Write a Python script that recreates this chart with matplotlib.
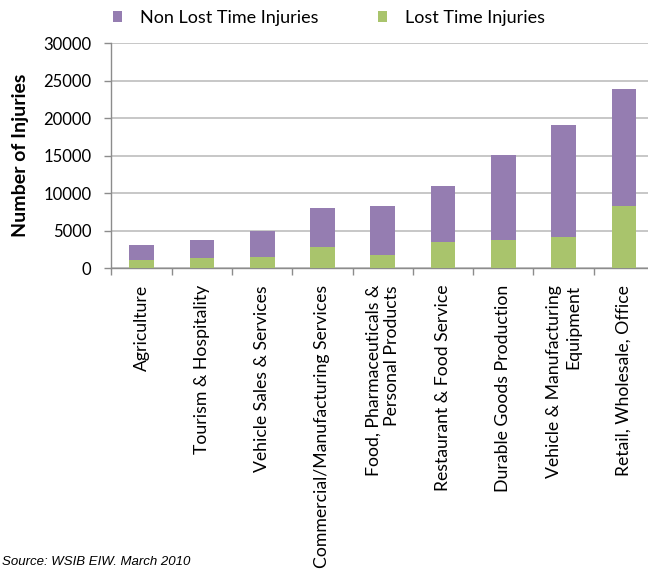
import matplotlib
matplotlib.use("Agg")
import matplotlib.pyplot as plt
import numpy as np
from matplotlib.patches import Patch

categories = [
    "Agriculture",
    "Tourism & Hospitality",
    "Vehicle Sales & Services",
    "Commercial/Manufacturing Services",
    "Food, Pharmaceuticals &\nPersonal Products",
    "Restaurant & Food Service",
    "Durable Goods Production",
    "Vehicle & Manufacturing\nEquipment",
    "Retail, Wholesale, Office",
]
lost_time = [1100, 1370, 1500, 2830, 1770, 3490, 3750, 4150, 8260]
total_injuries = [3090, 3750, 4940, 7990, 8260, 10900, 15140, 19130, 23940]
non_lost_time = [t - l for t, l in zip(total_injuries, lost_time)]
yticks = [0, 5000, 10000, 15000, 20000, 25000, 30000]

purple = "#957DB1"
green = "#A9C46C"
font = "Lato"
plt.rcParams["font.family"] = [font, "DejaVu Sans"]

W, H = 648, 571
fig = plt.figure(figsize=(W / 100, H / 100), dpi=100)
left = 111.5 / W
right = 654 / W
bottom = 1 - 268.3 / H
top = 1 - 43 / H
ax = fig.add_axes([left, bottom, right - left, top - bottom])

x = np.arange(len(categories))
ax.bar(x, lost_time, width=0.41, color=green, zorder=3)
ax.bar(x, non_lost_time, width=0.41, bottom=lost_time, color=purple, zorder=3)

ax.set_xlim(-0.5, len(categories) - 0.5)
ax.set_ylim(0, 30000)
ax.set_yticks(yticks)
ax.set_yticklabels([str(v) for v in yticks], fontsize=12)
ax.yaxis.grid(True, color="#BEBEBE", linewidth=1.2, zorder=0)
ax.set_axisbelow(True)

ax.set_xticks(x)
ax.set_xticklabels(categories, rotation=90, fontsize=12.7, va="top", ha="center",
                   multialignment="right")
ax.set_xticks(np.arange(len(categories) + 1) - 0.5, minor=True)
ax.tick_params(axis="x", which="major", length=0, pad=12)
ax.tick_params(axis="x", which="minor", length=5, color="#8C8C8C", width=1)
ax.tick_params(axis="y", length=5, color="#8C8C8C", width=1, pad=9.5)

for s in ["top", "right"]:
    ax.spines[s].set_visible(False)
for s in ["left", "bottom"]:
    ax.spines[s].set_color("#8C8C8C")
    ax.spines[s].set_linewidth(1)

ax.set_ylabel("Number of Injuries", fontsize=14, fontweight="bold", labelpad=10)

handles = [Patch(facecolor=purple, label="Non Lost Time Injuries"),
           Patch(facecolor=green, label="Lost Time Injuries")]
fig.legend(handles=handles, loc="center left", bbox_to_anchor=(106 / W, 1 - 18 / H),
           ncol=2, frameon=False, fontsize=13, handlelength=0.5, handleheight=0.5,
           columnspacing=3.3, handletextpad=1.0, borderaxespad=0)

fig.text(2 / W, 1 - 562 / H, "Source: WSIB EIW. March 2010", ha="left", va="center",
         fontsize=9.5, style="italic", family=["Liberation Sans", "DejaVu Sans"])

fig.savefig("out.png", dpi=100)
